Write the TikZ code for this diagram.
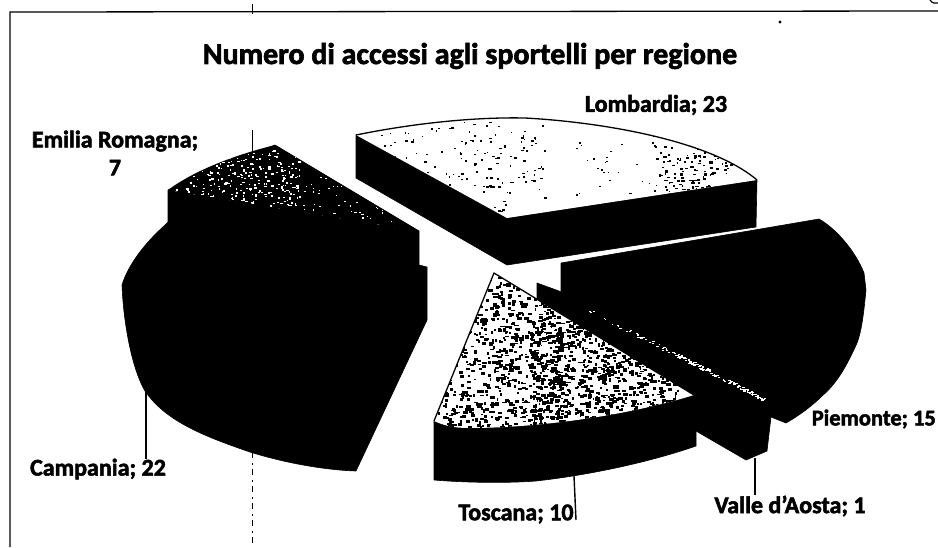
\documentclass[tikz,border=0pt]{standalone}
\usepackage{fontspec}
\setmainfont{Carlito}[BoldFeatures={FakeBold=2.2}]
\tikzset{
  ink/.style={fill=black,draw=black,line width=0.6pt,line join=round},
  leader/.style={draw=black,line width=1.4pt},
  framing/.style={draw=black,line width=1.3pt},
  dashline/.style={draw=black,line width=1pt,dash pattern=on 6pt off 5pt on 2pt off 4pt},
  lab/.style={font=\bfseries\fontsize{24}{24}\selectfont,text=black,inner sep=0pt,align=center},
  ttl/.style={font=\bfseries\fontsize{30}{32}\selectfont,text=black,inner sep=0pt},
}
\newcommand{\speckles}[7]{% count, xmin, xmax, ymin, ymax, size, colour
  \foreach \i in {1,...,#1}{
    \pgfmathsetmacro{\sa}{#2+rnd*(#3-#2)}
    \pgfmathsetmacro{\sb}{#4+rnd*(#5-#4)}
    \pgfmathsetmacro{\sc}{#6*(0.5+rnd)}
    \pgfmathsetmacro{\sd}{#6*(0.4+0.7*rnd)}
    \fill[#7] (\sa,\sb) rectangle ++(\sc,\sd);
  }}
\begin{document}
\begin{tikzpicture}[x=1pt,y=-1pt]
\useasboundingbox (0,0) rectangle (938,547);
\fill[white] (0,0) rectangle (938,547);
\pgfmathsetseed{4217}
% frame and scan marks
\coordinate (fa) at (10,547); \coordinate (fb) at (10,12); \coordinate (fc) at (938,11);
\draw[framing] (fa) -- (fb) -- (fc);
\coordinate (da) at (252,452); \coordinate (db) at (252,547);
\draw[dashline] (da) -- (db);
\coordinate (dc) at (252,130); \coordinate (dd) at (252,152);
\draw[draw=black,line width=1pt] (dc) -- (dd);
\coordinate (de) at (252,4); \coordinate (df) at (252,14);
\draw[draw=black,line width=1pt] (de) -- (df);
\fill[black] (780,22) circle (1.6);
\draw[line width=1.2pt] (930,0) .. controls (932,3) and (935,4) .. (938,3);
% Campania
\path[ink] (168,222) -- (164,226) .. controls (145,243) and (128,265) .. (122,285)
  .. controls (123,315) and (130,365) .. (145,391)
  .. controls (165,420) and (200,435) .. (250,452)
  .. controls (285,463) and (325,470) .. (356,471)
  -- (427,320) -- (427,267) -- (419,265) -- cycle;
% Emilia Romagna
\path[ink] (168,190) -- (168,222) -- (419,268) -- (419,231) -- (275,145) -- cycle;
\begin{scope}
\clip (168,190) .. controls (195,170) and (235,155) .. (275,145) -- (419,231) -- cycle;
\fill[black] (160,140) rectangle (425,235);
\speckles{280}{172}{300}{150}{205}{1.9}{white}
\speckles{120}{270}{405}{175}{232}{1.5}{white}
\end{scope}
% Lombardia
\path[ink] (356,135) -- (356,178) -- (507,265) -- (756,227) -- (757,180) -- (507,218) -- cycle;
\begin{scope}
\clip (356,135) .. controls (420,122) and (480,117) .. (525,118)
  .. controls (600,122) and (710,140) .. (757,180) -- (507,218) -- cycle;
\fill[white] (350,110) rectangle (760,222);
\speckles{190}{375}{545}{122}{218}{2}{black}
\speckles{130}{655}{730}{145}{195}{2.4}{black}
\speckles{30}{570}{655}{135}{205}{1.6}{black}
\end{scope}
\draw[draw=black,line width=1.3pt,line join=round] (356,135) .. controls (420,122) and (480,117) .. (525,118)
  .. controls (600,122) and (710,140) .. (757,180);
% Piemonte
\path[ink] (561,263) -- (819,219) .. controls (835,228) and (855,250) .. (864,273)
  -- (866,290) .. controls (864,310) and (862,330) .. (857,343)
  .. controls (845,370) and (835,385) .. (822,396)
  .. controls (810,408) and (795,418) .. (786,423) -- (771,417) -- (690,360) -- (561,292) -- cycle;
% Valle d'Aosta
\path[ink] (537,283) -- (559,291) -- (771,400) -- (771,417) -- (767,451) -- (746,460) -- (696,431) -- (690,395) -- (537,300) -- cycle;
\foreach \i in {1,...,150}{
  \pgfmathsetmacro{\st}{rnd^0.6}
  \pgfmathsetmacro{\sa}{582+\st*182}
  \pgfmathsetmacro{\sb}{306+\st*92+(rnd-0.2)*4.5}
  \pgfmathsetmacro{\sc}{1+2.2*rnd}
  \fill[white] (\sa,\sb) rectangle ++(\sc,1.1);
}
% Toscana
\path[ink] (434,421) -- (434,480) .. controls (470,483) and (510,483) .. (536,481)
  .. controls (590,475) and (650,462) .. (696,446) -- (696,431) -- (694,395) -- cycle;
\begin{scope}
\clip (494,273) -- (694,395) .. controls (630,415) and (540,428) .. (469,428)
  .. controls (455,428) and (445,426) .. (434,421) -- cycle;
\fill[white] (430,270) rectangle (700,432);
\speckles{800}{438}{560}{275}{430}{3.2}{black}
\speckles{1000}{530}{680}{320}{425}{3.2}{black}
\end{scope}
\draw[draw=black,line width=1.3pt,line join=round] (434,421) -- (494,273) -- (694,395);
% labels
\node[ttl] (title) at (470,56) {Numero di accessi agli sportelli per regione};
\node[lab] (lomb) at (656,105) {Lombardia; 23};
\node[lab] (emil) at (115,153) {Emilia Romagna;\\[4pt]7};
\node[lab] (camp) at (98,469) {Campania; 22};
\node[lab] (tosc) at (516,514) {Toscana; 10};
\node[lab] (vall) at (790,506) {Valle d'Aosta; 1};
\node[lab,anchor=east,font=\bfseries\fontsize{22.5}{24}\selectfont] (piem) at (936,419) {Piemonte; 15};
% leaders
\coordinate (lc) at (146,390);
\draw[leader] (lc) -- (lc |- camp.north);
\coordinate (lt) at (574,476); \coordinate (ltb) at (576,520);
\draw[leader] (lt) -- (ltb);
\coordinate (lv) at (755,458);
\draw[leader] (lv) -- (lv |- vall.north);
\end{tikzpicture}
\end{document}
